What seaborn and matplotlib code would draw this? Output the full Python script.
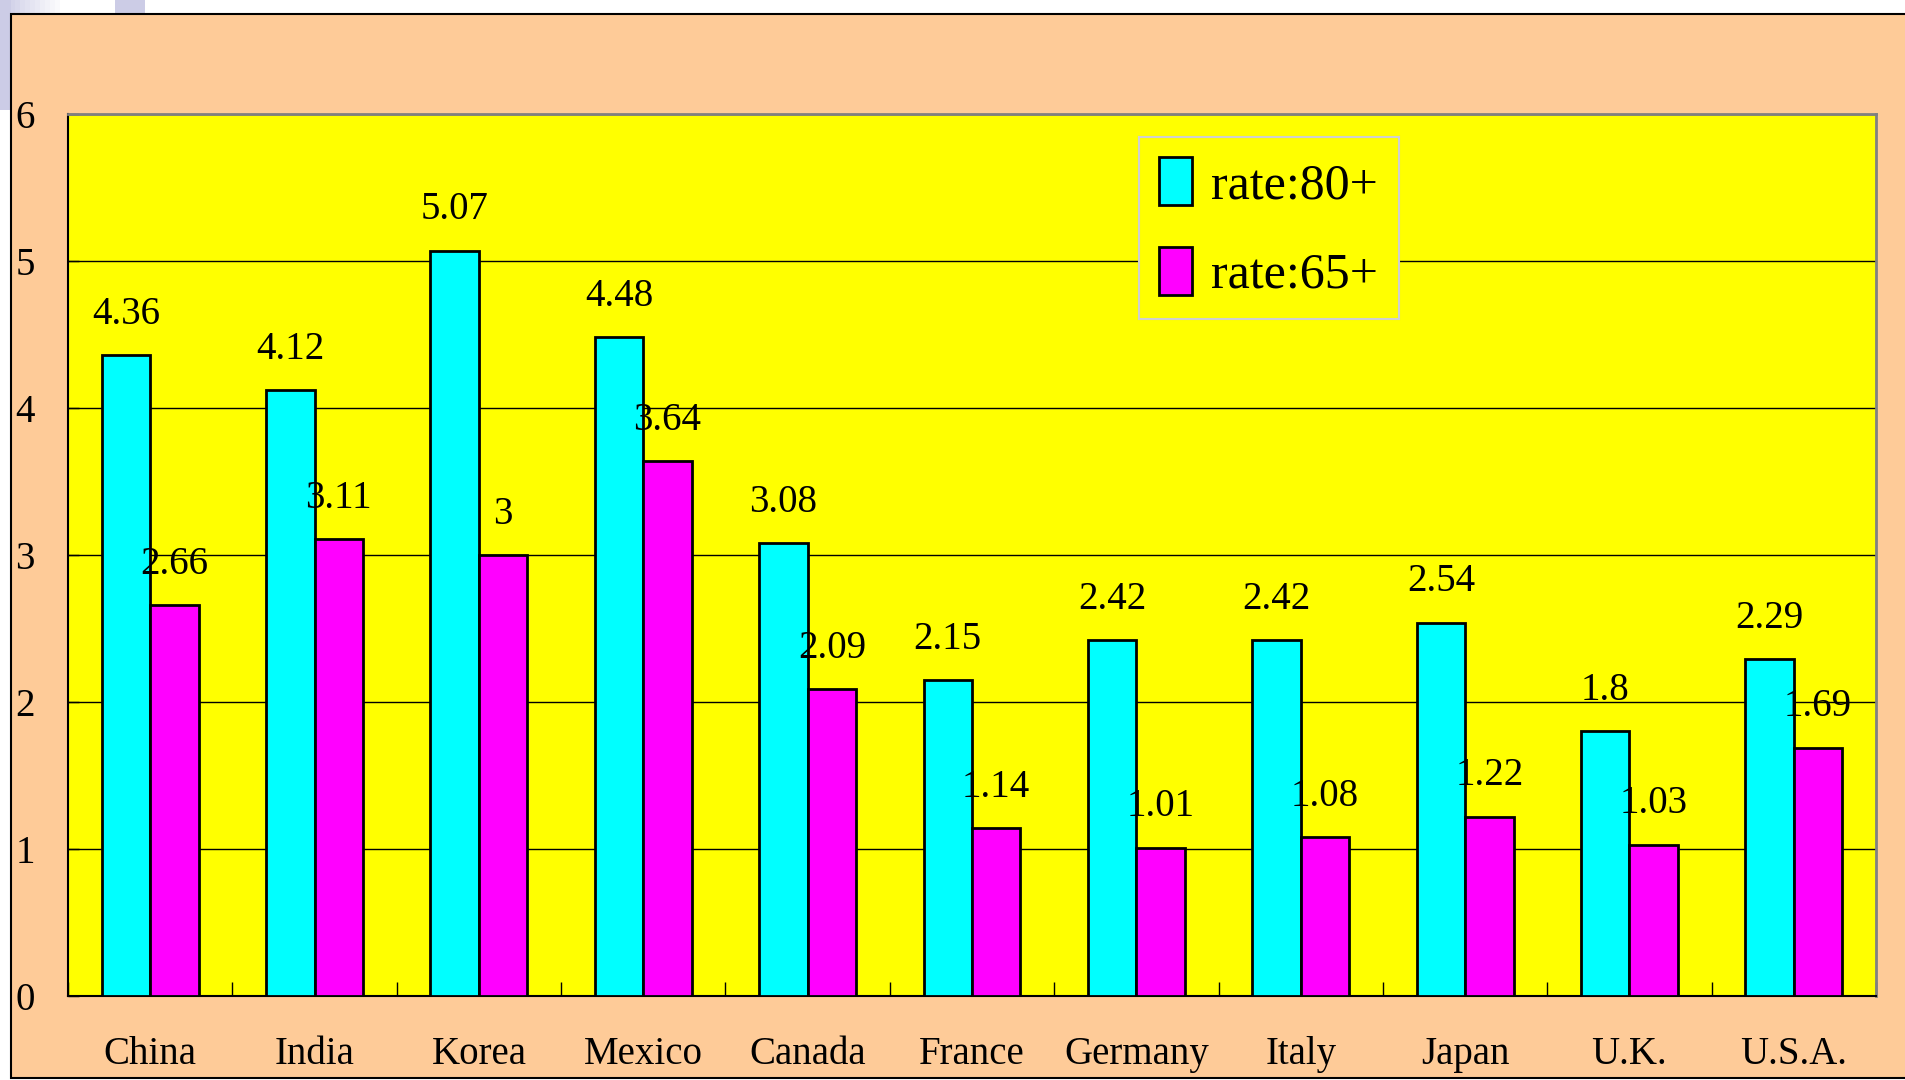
import matplotlib
matplotlib.use("Agg")
import matplotlib.pyplot as plt
import numpy as np
import pandas as pd
import seaborn as sns
from matplotlib.patches import Rectangle

countries = ["China", "India", "Korea", "Mexico", "Canada", "France",
             "Germany", "Italy", "Japan", "U.K.", "U.S.A."]
rate_80 = [4.36, 4.12, 5.07, 4.48, 3.08, 2.15, 2.42, 2.42, 2.54, 1.8, 2.29]
rate_65 = [2.66, 3.11, 3, 3.64, 2.09, 1.14, 1.01, 1.08, 1.22, 1.03, 1.69]
series = ["rate:80+", "rate:65+"]
y_ticks = [0, 1, 2, 3, 4, 5, 6]

df = pd.DataFrame({
    "country": countries * 2,
    "series": [series[0]] * len(countries) + [series[1]] * len(countries),
    "value": rate_80 + rate_65,
})

sns.set_theme(style="white")
plt.rcParams["font.family"] = ["Liberation Serif", "DejaVu Serif"]
plt.rcParams["text.color"] = "black"

fig = plt.figure(figsize=(19.05, 10.8), dpi=100)
fig.patch.set_facecolor("white")

# decorative slide background (drawn below the axes)
W, H = 1905, 1080
lav = "#cccce6"
for i in range(12):
    fig.patches.append(Rectangle((i * 5 / W, 1 - 14 / H), 5 / W, 14 / H, transform=fig.transFigure,
                                 facecolor=lav, alpha=1 - i / 12, edgecolor="none", zorder=-3))
fig.patches.append(Rectangle((115 / W, 1 - 14 / H), 30 / W, 14 / H, transform=fig.transFigure,
                             facecolor=lav, edgecolor="none", zorder=-3))
fig.patches.append(Rectangle((0, 1 - 110 / H), 11 / W, 110 / H, transform=fig.transFigure,
                             facecolor=lav, edgecolor="none", zorder=-3))
fig.patches.append(Rectangle((11 / W, 2 / H), 1 - 11 / W + 0.01, 1 - 16 / H, transform=fig.transFigure,
                             facecolor="#fecb98", edgecolor="black", linewidth=1.5, zorder=-2))

ax = fig.add_axes([68 / W, 84 / H, (1876 - 68) / W, (996 - 114) / H])
ax.set_facecolor("#ffff00")

sns.barplot(data=df, x="country", y="value", hue="series", order=countries, hue_order=series,
            palette=["#00ffff", "#ff00ff"], width=0.59, gap=0, edgecolor="black", linewidth=2,
            saturation=1, ax=ax, zorder=3)

for container in ax.containers:
    ax.bar_label(container, labels=[f"{v:g}" for v in container.datavalues], padding=16,
                 fontsize=28, color="black", zorder=5)

ax.set_ylim(0, 6)
ax.set_xlim(-0.5, len(countries) - 0.5)
ax.set_yticks(y_ticks)
ax.yaxis.grid(True, color="black", linewidth=1)
ax.set_axisbelow(True)
ax.set_xlabel("")
ax.set_ylabel("")
ax.set_xticks(np.arange(len(countries) + 1) - 0.5, minor=True)
ax.tick_params(axis="x", which="major", length=0, pad=29, labelsize=28, labelcolor="black")
ax.tick_params(axis="x", which="minor", direction="in", length=10, width=1, color="black", bottom=True)
ax.tick_params(axis="y", which="major", direction="in", length=8, width=1, color="black",
               left=True, pad=24, labelsize=28, labelcolor="black")

for side in ["left", "bottom"]:
    ax.spines[side].set_color("black")
    ax.spines[side].set_linewidth(1.5)
for side in ["top", "right"]:
    ax.spines[side].set_color("#808080")
    ax.spines[side].set_linewidth(2)

leg = ax.legend(loc="upper left", bbox_to_anchor=((1139 - 68) / (1876 - 68), 1 - (137 - 114) / (996 - 114)),
                borderaxespad=0, fontsize=36, frameon=True, fancybox=False, facecolor="#ffff00",
                edgecolor="#d0d0d0", handlelength=0.65, handleheight=1.1, handletextpad=0.4,
                labelspacing=0.75, borderpad=0.4, title=None)
leg.get_frame().set_linewidth(1.5)
leg.get_frame().set_alpha(1)
leg.set_zorder(6)

fig.savefig("out.png", dpi=100, facecolor=fig.get_facecolor())
